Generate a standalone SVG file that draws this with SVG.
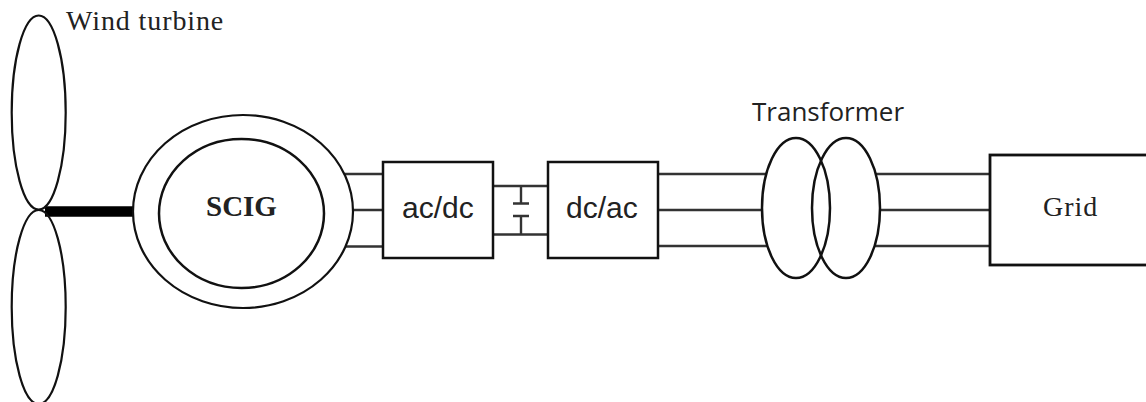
<svg xmlns="http://www.w3.org/2000/svg" width="1146" height="402" viewBox="0 0 1146 402">
<style>
.s{fill:none;stroke:#111;stroke-width:2.200}
.b{fill:none;stroke:#111;stroke-width:2.500}
.w{stroke:#333;stroke-width:2.400;fill:none}
.serif{font-family:"Liberation Serif","Times New Roman",serif;fill:#222}
.sans{font-family:"Liberation Sans",Arial,sans-serif;fill:#222;font-size:30px}
</style>
<rect width="1146" height="402" fill="#fff"/>
<g id="connectors">
<path class="w" d="M344 174H383M353 210H383M345.500 246.500H383"/>
<path class="w" d="M493 186H548M493 234.500H548M521 186V203.500M513 203.500H529M513 216H529M521 216V234.500"/>
<path class="w" d="M658 174H766M658 210H762M658 246H767"/>
<path class="w" d="M876 174H990M880 210H990M875 246H990"/>
<path d="M45 211.500H134" fill="none" stroke="#000" stroke-width="10.500"/>
</g>
<g id="wind-turbine">
<ellipse class="s" cx="38.700" cy="112.500" rx="27" ry="97"/>
<ellipse class="s" cx="38.700" cy="307" rx="27" ry="97"/>
<text class="serif" x="66" y="30" font-size="28" letter-spacing="0.900">Wind turbine</text>
</g>
<g id="scig">
<ellipse class="s" cx="243" cy="211.500" rx="110" ry="96.500"/>
<ellipse class="b" cx="241.500" cy="213.500" rx="82.500" ry="74.500"/>
<text class="serif" x="206" y="215.500" font-size="29" font-weight="bold">SCIG</text>
</g>
<g id="ac-dc">
<rect class="b" x="383" y="162" width="110" height="96"/>
<text class="sans" x="402" y="218">ac/dc</text>
</g>
<g id="dc-ac">
<rect class="b" x="548" y="162" width="110" height="96"/>
<text class="sans" x="566" y="218">dc/ac</text>
</g>
<g id="transformer">
<ellipse class="b" cx="796" cy="208" rx="34" ry="70"/>
<ellipse class="b" cx="846" cy="208" rx="34" ry="70"/>
<text x="752" y="121" font-family="'Open Sans','Noto Sans',sans-serif" font-size="26" fill="#222">Transformer</text>
</g>
<g id="grid">
<rect x="990" y="155" width="158" height="110" fill="none" stroke="#111" stroke-width="2.800"/>
<text class="serif" x="1043" y="216" font-size="28" letter-spacing="1">Grid</text>
</g>
</svg>
